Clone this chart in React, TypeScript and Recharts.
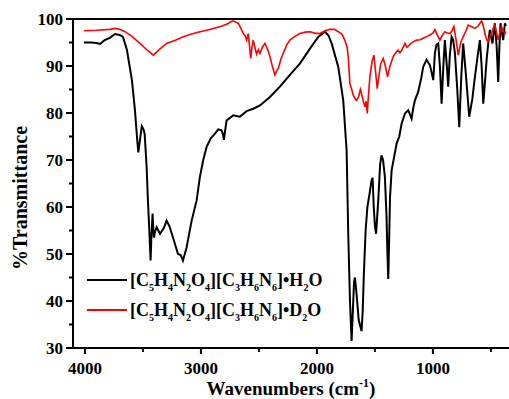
import { LineChart, Line, XAxis, YAxis, Legend, ReferenceLine } from 'recharts';

// IR spectrum: %Transmittance vs wavenumber for the H2O and D2O forms
document.body.style.margin = '0';

const FONT = '"Liberation Serif", "Times New Roman", serif';

const waveH2O = [
  4010, 3950, 3900, 3870, 3830, 3785, 3741, 3700, 3672, 3638, 3595, 3569, 3549, 3540, 3530, 3510, 3495, 3485,
  3468, 3457, 3445, 3434, 3428, 3417, 3410, 3405, 3395, 3382, 3353, 3320, 3296, 3270, 3241, 3198, 3175, 3155,
  3124, 3080, 3037, 3009, 2980, 2951, 2915, 2879, 2851, 2822, 2810, 2802, 2790, 2779, 2722, 2664, 2606, 2549,
  2491, 2405, 2319, 2233, 2147, 2060, 1989, 1931, 1900, 1873, 1816, 1773, 1744, 1730, 1715, 1701, 1690, 1680,
  1672, 1660, 1640, 1625, 1615, 1605, 1595, 1580, 1565, 1545, 1530, 1520, 1510, 1500, 1490, 1480, 1470, 1455,
  1443, 1430, 1414, 1400, 1392, 1385, 1378, 1370, 1356, 1313, 1290, 1270, 1241, 1213, 1200, 1184, 1170, 1155,
  1127, 1100, 1084, 1055, 1026, 1010, 997, 983, 970, 954, 940, 925, 910, 897, 880, 868, 855, 839, 825, 810,
  790, 773, 755, 739, 715, 687, 660, 638, 615, 595, 580, 566, 550, 537, 520, 509, 497, 486, 475, 466, 450,
  437, 427, 417, 405, 394, 379, 370,
];
const transH2O = [
  95.0, 95.0, 94.9, 94.7, 95.5, 96.0, 96.8, 96.6, 96.2, 93.4, 87.0, 80.6, 74.2, 71.6, 73.5, 77.2, 76.5, 75.5,
  68.4, 61.4, 55.0, 48.6, 53.0, 58.6, 55.0, 53.5, 54.8, 55.7, 54.3, 55.5, 57.1, 55.8, 53.5, 50.0, 49.8, 48.6,
  51.4, 57.1, 61.4, 66.4, 70.0, 72.8, 74.6, 75.6, 76.5, 76.3, 75.5, 74.3, 76.5, 78.4, 79.5, 79.2, 80.4, 80.9,
  81.6, 83.4, 85.6, 88.1, 90.5, 93.7, 96.2, 97.3, 96.5, 94.8, 89.8, 82.7, 72.0, 54.3, 40.0, 31.5, 38.0, 44.0,
  45.0, 42.0, 36.0, 34.5, 33.6, 38.0, 46.0, 55.0, 60.0, 63.0, 65.6, 66.2, 60.0, 56.0, 54.3, 58.0, 62.0, 69.0,
  71.0, 70.0, 66.4, 58.0, 50.0, 44.7, 52.0, 62.0, 67.8, 73.5, 75.0, 77.7, 79.9, 80.6, 79.8, 78.8, 81.0, 82.7,
  84.5, 87.5, 89.8, 91.3, 90.2, 88.5, 87.0, 92.7, 94.5, 94.8, 90.0, 82.0, 90.0, 95.5, 90.0, 85.6, 92.0, 96.2, 95.5, 92.7,
  85.0, 77.0, 88.0, 94.8, 88.0, 79.2, 83.0, 87.7, 92.0, 95.5, 90.0, 82.0, 87.0, 91.3, 95.5, 97.7, 96.0, 94.8, 97.5, 99.1, 94.0,
  86.6, 94.0, 99.1, 97.0, 95.5, 99.1, 98.5,
];

const waveD2O = [
  4010, 3900, 3785, 3741, 3700, 3655, 3600, 3526, 3460, 3411, 3350, 3296, 3220, 3153, 3080, 3009, 2950, 2894,
  2830, 2779, 2740, 2722, 2700, 2678, 2655, 2635, 2620, 2606, 2592, 2580, 2571, 2560, 2549, 2535, 2520, 2505,
  2491, 2470, 2448, 2425, 2405, 2385, 2362, 2345, 2333, 2310, 2290, 2260, 2233, 2190, 2147, 2100, 2060, 2020,
  1974, 1930, 1888, 1850, 1816, 1785, 1759, 1740, 1730, 1716, 1700, 1687, 1670, 1658, 1640, 1625, 1615, 1600,
  1586, 1575, 1566, 1555, 1543, 1525, 1509, 1495, 1480, 1465, 1450, 1428, 1410, 1391, 1370, 1342, 1320, 1300,
  1285, 1270, 1241, 1225, 1213, 1190, 1160, 1141, 1110, 1084, 1050, 1026, 1000, 983, 960, 940, 920, 897, 875,
  853, 835, 819, 800, 782, 760, 739, 715, 696, 670, 638, 610, 580, 565, 552, 535, 523, 508, 494, 480, 466, 450,
  437, 420, 408, 394, 379, 370,
];
const transD2O = [
  97.5, 97.6, 97.8, 98.0, 97.8, 97.3, 96.4, 94.8, 93.3, 92.3, 93.7, 94.8, 95.5, 96.2, 96.8, 97.3, 97.6, 98.0,
  98.4, 98.9, 99.4, 99.6, 99.3, 99.1, 98.0, 96.9, 96.5, 95.5, 96.9, 94.0, 91.6, 94.0, 95.5, 94.0, 92.5, 93.5,
  92.7, 94.0, 94.8, 93.5, 92.0, 90.0, 88.1, 89.0, 89.5, 91.5, 92.7, 94.5, 95.5, 96.3, 96.9, 97.2, 97.3, 97.0,
  96.9, 97.5, 97.8, 97.8, 97.3, 96.8, 95.5, 94.0, 92.0, 86.3, 85.0, 83.8, 83.0, 82.7, 83.5, 85.0, 84.1, 82.5,
  81.3, 82.5, 79.9, 84.0, 87.7, 91.0, 92.3, 89.0, 85.2, 88.0, 90.5, 91.6, 90.0, 87.7, 90.0, 92.0, 92.8, 93.4,
  92.8, 93.3, 94.8, 94.0, 94.2, 94.8, 95.3, 95.5, 95.6, 95.9, 96.3, 96.6, 97.0, 97.7, 96.5, 95.5, 96.5, 97.3, 97.0,
  96.9, 97.5, 98.4, 95.5, 92.3, 95.0, 96.2, 97.5, 98.7, 98.4, 98.0, 98.5, 99.6, 98.5, 96.9, 95.5, 95.2, 96.3, 97.0, 98.0, 98.7, 97.0,
  95.5, 97.5, 98.4, 97.5, 96.9, 97.3,
];

const xTicks = [500, 1000, 1500, 2000, 2500, 3000, 3500, 4000];
const yTicks = [30, 35, 40, 45, 50, 55, 60, 65, 70, 75, 80, 85, 90, 95, 100];
const seriesNames = ['[C5H4N2O4][C3H6N6]•H2O', '[C5H4N2O4][C3H6N6]•D2O'];
const seriesColors = ['#000000', '#ff0000'];

const toPoints = (waves: number[], values: number[]) => waves.map((wn, i) => ({ wn, t: values[i] }));

function XTick(props: any) {
  const { x, y, payload } = props;
  const major = payload.value % 1000 === 0;
  return (
    <g>
      <line x1={x} x2={x} y1={y} y2={y + (major ? 6 : 4)} stroke="#000" strokeWidth={2} />
      {major && (
        <text x={x} y={y + 26} textAnchor="middle" fontFamily={FONT} fontWeight="bold" fontSize={17} fill="#000">
          {payload.value}
        </text>
      )}
    </g>
  );
}

function YTick(props: any) {
  const { x, y, payload } = props;
  const major = payload.value % 10 === 0;
  return (
    <g>
      <line x1={x} x2={x - (major ? 7 : 4)} y1={y} y2={y} stroke="#000" strokeWidth={2} />
      {major && (
        <text x={x - 10} y={y + 6} textAnchor="end" fontFamily={FONT} fontWeight="bold" fontSize={17} fill="#000">
          {payload.value}
        </text>
      )}
    </g>
  );
}

function XLabel(props: any) {
  const vb = props.viewBox;
  return (
    <text x={vb.x + vb.width / 2} y={vb.y + 47} textAnchor="middle" fontFamily={FONT} fontWeight="bold" fontSize={19} fill="#000">
      Wavenumbers (cm
      <tspan dy={-8} fontSize={12}>-1</tspan>
      <tspan dy={8}>)</tspan>
    </text>
  );
}

function YLabel() {
  return (
    <text x={20} y={198} transform="rotate(-90, 20, 198)" textAnchor="middle" dominantBaseline="central"
      fontFamily={FONT} fontWeight="bold" fontSize={20} fill="#000">
      %Transmittance
    </text>
  );
}

// digits in the formula are drawn as subscripts
function Formula({ text }: { text: string }) {
  return (
    <span>
      {text.split('').map((ch, i) =>
        /[0-9]/.test(ch) ? (
          <span key={i} style={{ fontSize: 10, position: 'relative', top: 5 }}>{ch}</span>
        ) : (
          <span key={i}>{ch}</span>
        )
      )}
    </span>
  );
}

function renderLegend() {
  return (
    <div style={{ fontFamily: FONT, fontWeight: 'bold', fontSize: 18, color: '#000', lineHeight: 1 }}>
      {seriesNames.map((name, i) => (
        <div key={name} style={{ display: 'flex', alignItems: 'center', height: 30, whiteSpace: 'nowrap' }}>
          <svg width={40} height={4} style={{ marginRight: 3 }}>
            <line x1={0} x2={40} y1={2} y2={2} stroke={seriesColors[i]} strokeWidth={2} />
          </svg>
          <Formula text={name} />
        </div>
      ))}
    </div>
  );
}

export default function App() {
  const h2o = toPoints(waveH2O, transH2O);
  const d2o = toPoints(waveD2O, transD2O);
  return (
    <div style={{ width: 509, height: 399, background: '#fff' }}>
      <LineChart width={509} height={399} margin={{ top: 19, right: 0, bottom: 0, left: 0 }}>
        <XAxis
          dataKey="wn"
          type="number"
          domain={[344, 4103]}
          reversed
          allowDataOverflow
          ticks={xTicks}
          interval={0}
          tickSize={0}
          tickMargin={0}
          tickLine={false}
          tick={<XTick />}
          height={51}
          axisLine={{ stroke: '#000', strokeWidth: 2 }}
          label={XLabel}
        />
        <YAxis
          dataKey="t"
          type="number"
          domain={[30, 100]}
          allowDataOverflow
          ticks={yTicks}
          interval={0}
          tickSize={0}
          tickMargin={0}
          tickLine={false}
          tick={<YTick />}
          width={73}
          axisLine={{ stroke: '#000', strokeWidth: 2 }}
          label={YLabel}
        />
        <ReferenceLine y={100} stroke="#000" strokeWidth={2} />
        <Legend
          layout="vertical"
          align="center"
          verticalAlign="middle"
          wrapperStyle={{ left: 87, top: 265, width: 260 }}
          content={renderLegend}
        />
        <Line data={h2o} dataKey="t" type="linear" stroke="#000" strokeWidth={2} dot={false} isAnimationActive={false} name={seriesNames[0]} />
        <Line data={d2o} dataKey="t" type="linear" stroke="#ff0000" strokeWidth={1.6} dot={false} isAnimationActive={false} name={seriesNames[1]} />
      </LineChart>
    </div>
  );
}
